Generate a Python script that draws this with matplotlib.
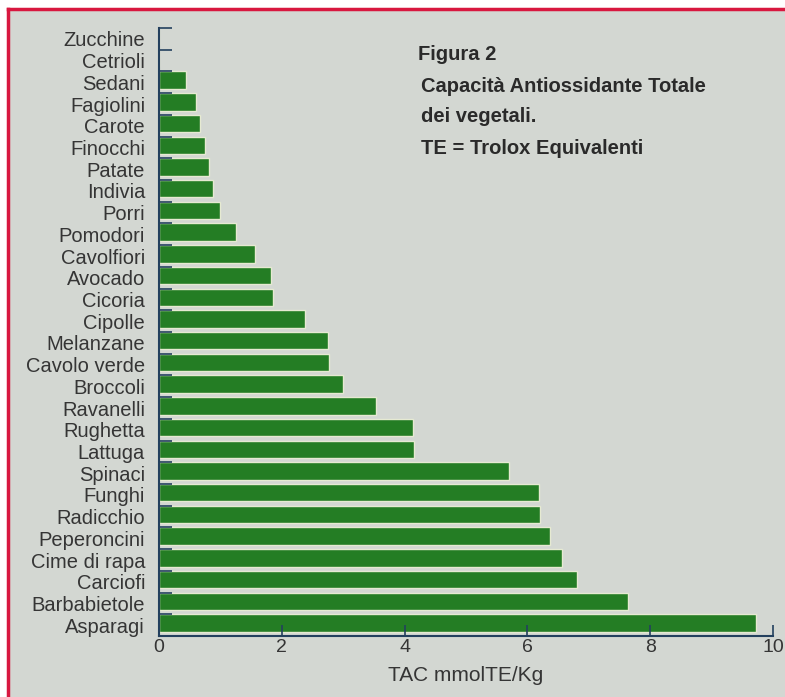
"""Total antioxidant capacity of vegetables, horizontal bar chart"""
import matplotlib.pyplot as plt
import numpy as np
from matplotlib.lines import Line2D
from matplotlib.patches import Rectangle

vegetables = [
    "Zucchine", "Cetrioli", "Sedani", "Fagiolini", "Carote", "Finocchi",
    "Patate", "Indivia", "Porri", "Pomodori", "Cavolfiori", "Avocado",
    "Cicoria", "Cipolle", "Melanzane", "Cavolo verde", "Broccoli",
    "Ravanelli", "Rughetta", "Lattuga", "Spinaci", "Funghi", "Radicchio",
    "Peperoncini", "Cime di rapa", "Carciofi", "Barbabietole", "Asparagi",
]
tac = [
    0.0, 0.0, 0.44, 0.61, 0.66, 0.75,
    0.81, 0.88, 0.99, 1.26, 1.57, 1.82,
    1.85, 2.37, 2.76, 2.77, 2.99,
    3.54, 4.14, 4.15, 5.70, 6.19, 6.21,
    6.37, 6.57, 6.80, 7.64, 9.72,
]
x_ticks = [0, 2, 4, 6, 8, 10]
title_lines = [
    "Figura 2",
    "Capacità Antiossidante Totale",
    "dei vegetali.",
    "TE = Trolox Equivalenti",
]

bg = "#d3d7d2"
bar_green = "#247d24"
axis_blue = "#23405e"
text_grey = "#353535"
sans = ["Liberation Sans", "DejaVu Sans"]

fig = plt.figure(figsize=(7.85, 6.97), dpi=100, facecolor="white")

# page background with the red frame on top and left
W, H = 785, 697
fig.patches.append(Rectangle((8 / W, 0), 1, 1 - 9 / H, transform=fig.transFigure,
                             facecolor=bg, edgecolor="none", zorder=-5))
fig.lines.append(Line2D([8 / W, 1], [1 - 9 / H, 1 - 9 / H], transform=fig.transFigure,
                        color="#d8173f", linewidth=2.5, zorder=-4))
fig.lines.append(Line2D([8 / W, 8 / W], [0, 1 - 9 / H], transform=fig.transFigure,
                        color="#d8173f", linewidth=2.5, zorder=-4))

ax = fig.add_axes([159 / W, 1 - 636 / H, (773 - 159) / W, (636 - 28) / H])
ax.set_facecolor("none")
ax.set_axisbelow(False)

y = np.arange(len(vegetables))
ax.barh(y - 0.1, tac, height=0.8, color=bar_green,
        edgecolor="#e6ead2", linewidth=1.0, zorder=2)

ax.set_ylim(len(vegetables) - 0.5, -0.5)
ax.set_xlim(0, 10)

# category labels centred in each slot, tick marks on the slot boundaries
ax.set_yticks(y)
ax.set_yticklabels(vegetables, fontsize=14.5, color=text_grey, family=sans)
ax.tick_params(axis="y", which="major", length=0, pad=10)
ax.set_yticks(np.arange(len(vegetables) + 1) - 0.5, minor=True)
ax.tick_params(axis="y", which="minor", direction="in", length=9,
               width=1.2, color=axis_blue)

ax.set_xticks(x_ticks)
ax.set_xticklabels([str(t) for t in x_ticks], fontsize=14, color=text_grey,
                   family=sans)
ax.tick_params(axis="x", direction="in", length=8, width=1.2,
               color=axis_blue, pad=2.5)
ax.set_xlabel("TAC mmolTE/Kg", fontsize=15, color=text_grey,
              family=sans, labelpad=7)

for side in ("top", "right"):
    ax.spines[side].set_visible(False)
for side in ("left", "bottom"):
    ax.spines[side].set_color(axis_blue)
    ax.spines[side].set_linewidth(1.5)

# figure caption block
for i, line in enumerate(title_lines):
    fig.text((418 if i == 0 else 421) / W, 1 - (55 + 31 * i) / H, line,
             fontsize=14.5, fontweight="bold", color="#2a2a2a",
             family=sans, va="center", ha="left")

fig.savefig("out.png", dpi=100, facecolor=fig.get_facecolor())
